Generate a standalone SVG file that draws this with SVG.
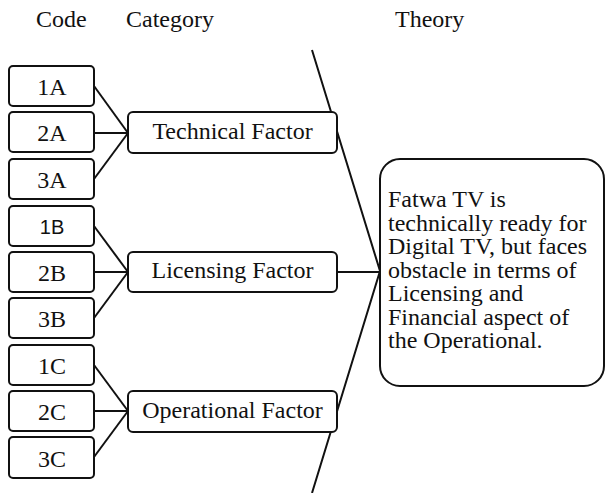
<svg xmlns="http://www.w3.org/2000/svg" width="606" height="493" viewBox="0 0 606 493">
<style>
.t{font-family:'Liberation Serif','Tinos','Times New Roman','DejaVu Serif',serif;font-size:24px;fill:#111}
.s{font-family:'Liberation Sans','Arimo',Arial,sans-serif;font-size:20px;fill:#111}
.box{fill:#fff;stroke:#111;stroke-width:2}
.ln{fill:none;stroke:#111;stroke-width:2}
</style>
<rect width="606" height="493" fill="#fff"/>
<g id="headers">
<text class="t" x="36" y="27">Code</text>
<text class="t" x="126" y="27">Category</text>
<text class="t" x="395" y="27">Theory</text>
</g>
<g id="connectors">
<polyline class="ln" points="312,50 380,271 312,493"/>
<line class="ln" x1="337" y1="272" x2="380" y2="272"/>
<line class="ln" x1="94" y1="86" x2="128" y2="133"/>
<line class="ln" x1="94" y1="133" x2="128" y2="133"/>
<line class="ln" x1="94" y1="179" x2="128" y2="133"/>
<line class="ln" x1="94" y1="226" x2="128" y2="272"/>
<line class="ln" x1="94" y1="272" x2="128" y2="272"/>
<line class="ln" x1="94" y1="318" x2="128" y2="272"/>
<line class="ln" x1="94" y1="365" x2="128" y2="411"/>
<line class="ln" x1="94" y1="411" x2="128" y2="411"/>
<line class="ln" x1="94" y1="457" x2="128" y2="411"/>
</g>
<g id="code1A"><rect class="box" x="9" y="66" width="85" height="40" rx="4"/><text class="t" x="52" y="95" text-anchor="middle">1A</text></g>
<g id="code2A"><rect class="box" x="9" y="112" width="85" height="40" rx="4"/><text class="t" x="52" y="141" text-anchor="middle">2A</text></g>
<g id="code3A"><rect class="box" x="9" y="159" width="85" height="40" rx="4"/><text class="t" x="52" y="188" text-anchor="middle">3A</text></g>
<g id="code1B"><rect class="box" x="9" y="206" width="85" height="40" rx="4"/><text class="s" x="52" y="234" text-anchor="middle">1B</text></g>
<g id="code2B"><rect class="box" x="9" y="252" width="85" height="40" rx="4"/><text class="t" x="52" y="281" text-anchor="middle">2B</text></g>
<g id="code3B"><rect class="box" x="9" y="298" width="85" height="40" rx="4"/><text class="t" x="52" y="327" text-anchor="middle">3B</text></g>
<g id="code1C"><rect class="box" x="9" y="345" width="85" height="40" rx="4"/><text class="t" x="52" y="374" text-anchor="middle">1C</text></g>
<g id="code2C"><rect class="box" x="9" y="391" width="85" height="40" rx="4"/><text class="t" x="52" y="420" text-anchor="middle">2C</text></g>
<g id="code3C"><rect class="box" x="9" y="437" width="85" height="41" rx="4"/><text class="t" x="52" y="467" text-anchor="middle">3C</text></g>
<g id="catTechnical"><rect class="box" x="128" y="112" width="209" height="41" rx="5"/><text class="t" x="232.5" y="139" text-anchor="middle">Technical Factor</text></g>
<g id="catLicensing"><rect class="box" x="128" y="252" width="209" height="40" rx="5"/><text class="t" x="232.5" y="278" text-anchor="middle">Licensing Factor</text></g>
<g id="catOperational"><rect class="box" x="128" y="391" width="209" height="41" rx="5"/><text class="t" x="232.5" y="418" text-anchor="middle">Operational Factor</text></g>
<g id="theory"><rect class="box" x="380" y="159" width="224" height="227" rx="20"/>
<text class="t" x="388"><tspan x="388" y="207">Fatwa TV is</tspan><tspan x="388" y="231">technically ready for</tspan><tspan x="388" y="254">Digital TV, but faces</tspan><tspan x="388" y="278">obstacle in terms of</tspan><tspan x="388" y="301">Licensing and</tspan><tspan x="388" y="325">Financial aspect of</tspan><tspan x="388" y="348">the Operational.</tspan></text></g>
</svg>
